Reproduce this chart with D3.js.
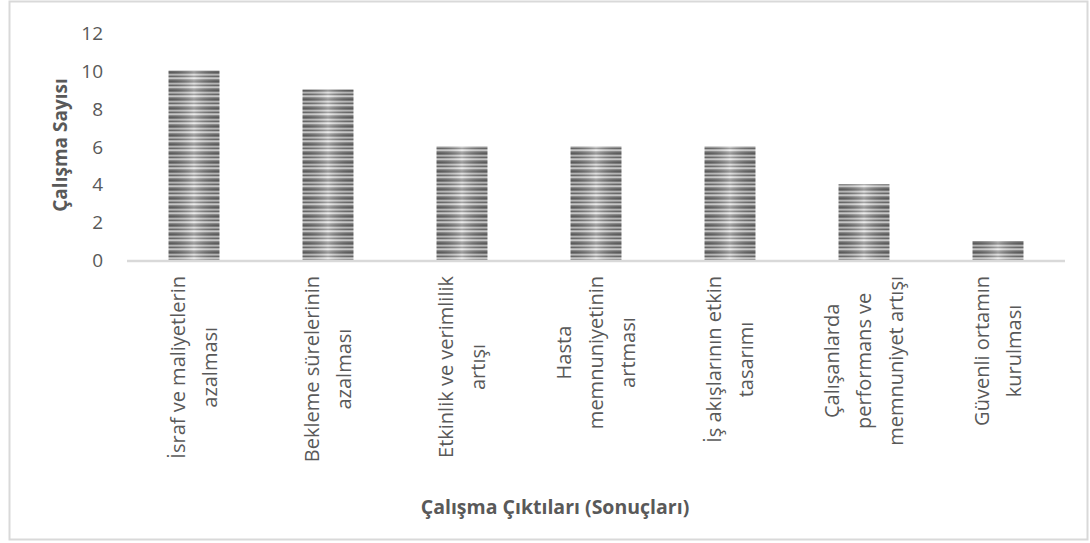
<!DOCTYPE html>
<html><head><meta charset="utf-8">
<script src="https://cdn.jsdelivr.net/npm/d3@7"></script>
<style>
html,body{margin:0;padding:0;background:#fff;}
svg{display:block;}
text{font-family:"Open Sans","Noto Sans",sans-serif;fill:#595959;}
</style></head>
<body>
<svg id="chart" width="1090" height="543"></svg>
<script>
// Data
const categories = [
  ["İsraf ve maliyetlerin", "azalması"],
  ["Bekleme sürelerinin", "azalması"],
  ["Etkinlik ve verimlilik", "artışı"],
  ["Hasta", "memnuniyetinin", "artması"],
  ["İş akışlarının etkin", "tasarımı"],
  ["Çalışanlarda", "performans ve", "memnuniyet artışı"],
  ["Güvenli ortamın", "kurulması"]
];
const values = [10, 9, 6, 6, 6, 4, 1];
const yTicks = [0, 2, 4, 6, 8, 10, 12];
const yTitle = "Çalışma Sayısı";
const xTitle = "Çalışma Çıktıları (Sonuçları)";

const svg = d3.select("#chart");
const plot = {left: 127, right: 1065, top: 32.8, bottom: 260};

// frame
svg.append("rect").attr("x", 9.5).attr("y", 1.5).attr("width", 1078).attr("height", 538)
  .attr("fill", "#fff").attr("stroke", "#d9d9d9").attr("stroke-width", 2);

const x = d3.scaleBand().domain(d3.range(categories.length))
  .range([plot.left, plot.right]).paddingInner(0.62).paddingOuter(0.31);
const y = d3.scaleLinear().domain([0, 12]).range([plot.bottom, plot.top]);

// defs: stripe pattern + shading gradient
const defs = svg.append("defs");
const pat = defs.append("pattern").attr("id", "stripes").attr("patternUnits", "userSpaceOnUse")
  .attr("width", 8).attr("height", 9);
const stripeCols = ["#666666", "#8a8a8a", "#cfcfcf", "#a9a9a9", "#737373", "#c4c4c4", "#e2e2e2", "#9a9a9a", "#777777"];
stripeCols.forEach((c, i) => pat.append("rect").attr("x", 0).attr("y", i).attr("width", 8).attr("height", 1).attr("fill", c));
const grad = defs.append("linearGradient").attr("id", "shade").attr("x1", 0).attr("x2", 1).attr("y1", 0).attr("y2", 0);
grad.append("stop").attr("offset", 0).attr("stop-color", "#000").attr("stop-opacity", 0.12);
grad.append("stop").attr("offset", 0.5).attr("stop-color", "#fff").attr("stop-opacity", 0.35);
grad.append("stop").attr("offset", 1).attr("stop-color", "#000").attr("stop-opacity", 0.12);

// bars
const bars = svg.append("g");
bars.selectAll("rect.bar").data(values).join("rect").attr("class", "bar")
  .attr("x", (d, i) => x(i)).attr("width", x.bandwidth())
  .attr("y", d => y(d)).attr("height", d => y(0) - y(d))
  .attr("fill", "url(#stripes)");
bars.selectAll("rect.shade").data(values).join("rect").attr("class", "shade")
  .attr("x", (d, i) => x(i)).attr("width", x.bandwidth())
  .attr("y", d => y(d)).attr("height", d => y(0) - y(d))
  .attr("fill", "url(#shade)");

// baseline
svg.append("line").attr("x1", plot.left).attr("x2", plot.right)
  .attr("y1", y(0) + 1).attr("y2", y(0) + 1)
  .attr("stroke", "#d9d9d9").attr("stroke-width", 2.5);

// y axis
const yAxis = d3.axisLeft(y).tickValues(yTicks).tickSize(0).tickPadding(0);
const gy = svg.append("g").attr("transform", "translate(103,0)").call(yAxis);
gy.select(".domain").remove();
gy.selectAll("text").style("font-size", "19px").style("font-family", null).attr("fill", "#595959").attr("dy", "0.35em");

// x labels
const lineGap = 32;
const labelTop = 276;
categories.forEach((lines, i) => {
  const cx = x(i) + x.bandwidth() / 2;
  const g = svg.append("g").attr("transform", `translate(${cx},${labelTop}) rotate(-90)`);
  const texts = g.selectAll("text").data(lines).join("text")
    .attr("text-anchor", "middle").style("font-size", "20px")
    .attr("y", (d, j) => (j - (lines.length - 1) / 2) * lineGap)
    .attr("dy", "0.35em").text(d => d);
  let L = 0;
  texts.each(function () { L = Math.max(L, this.getComputedTextLength()); });
  texts.attr("x", -L / 2);
});

// axis titles
svg.append("text").attr("transform", "translate(60,145) rotate(-90)")
  .attr("text-anchor", "middle").attr("dy", "0.35em")
  .style("font-size", "19px").style("font-weight", "bold").text(yTitle);
svg.append("text").attr("x", 555).attr("y", 507)
  .attr("text-anchor", "middle").attr("dy", "0.35em")
  .style("font-size", "19.5px").style("font-weight", "bold").text(xTitle);
</script>
</body></html>
